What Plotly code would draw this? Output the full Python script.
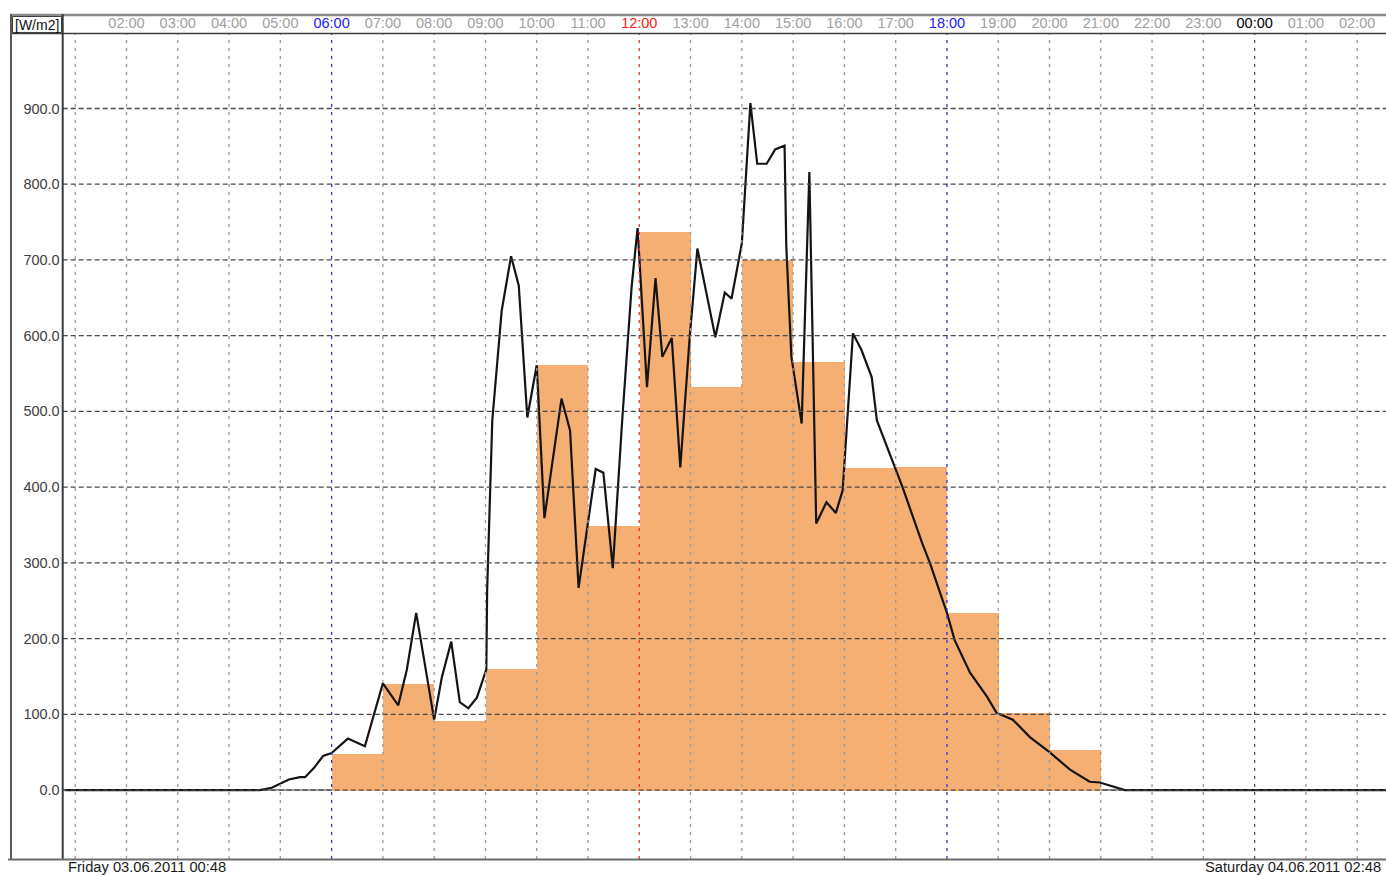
import plotly.graph_objects as go
import pandas as pd

W, H = 1386, 875

# ---------------- data ----------------
bar_start = ["2011-06-03 06:00", "2011-06-03 07:00", "2011-06-03 08:00", "2011-06-03 09:00",
             "2011-06-03 10:00", "2011-06-03 11:00", "2011-06-03 12:00", "2011-06-03 13:00",
             "2011-06-03 14:00", "2011-06-03 15:00", "2011-06-03 16:00", "2011-06-03 17:00",
             "2011-06-03 18:00", "2011-06-03 19:00", "2011-06-03 20:00"]
bar_values = [48, 141, 92, 161, 562, 349, 737, 533, 700, 566, 426, 427, 235, 102, 53]

line_times = ["00:48", "04:36", "04:50", "05:00", "05:10", "05:23", "05:29", "05:40", "05:50",
              "06:00", "06:19", "06:39", "07:00", "07:18", "07:28", "07:39", "08:00", "08:09",
              "08:20", "08:30", "08:40", "08:50", "09:01", "09:02", "09:08", "09:19", "09:30",
              "09:39", "09:49", "10:00", "10:09", "10:29", "10:39", "10:49", "11:09", "11:18",
              "11:29", "11:40", "11:51", "11:58", "12:09", "12:19", "12:27", "12:38", "12:48",
              "12:59", "13:08", "13:29", "13:40", "13:48", "14:00", "14:10", "14:18", "14:29",
              "14:39", "14:50", "14:52", "14:58", "15:10", "15:19", "15:27", "15:39", "15:50",
              "15:58", "16:10", "16:20", "16:32", "16:38", "16:59", "17:08", "17:31", "17:40",
              "18:00", "18:09", "18:27", "18:47", "18:58", "19:17", "19:37", "20:00", "20:24",
              "20:47", "20:59", "21:19", "21:28"]
line_values = [0, 0, 3, 8, 14, 17, 17, 30, 45,
               49, 68, 58, 141, 112, 159, 234, 93, 149,
               196, 116, 108, 122, 159, 264, 488, 633, 705,
               666, 492, 561, 359, 517, 475, 267, 424, 419,
               293, 488, 664, 742, 532, 676, 572, 597, 426,
               598, 715, 598, 657, 649, 722, 907, 827, 827,
               846, 851, 718, 572, 484, 816, 352, 380, 366,
               396, 603, 581, 545, 488, 427, 400, 326, 300,
               234, 198, 155, 123, 102, 93, 70, 50, 27,
               11, 10, 3, 0]
line_end_time = "2011-06-04 02:48"
line_end_value = 0

tick_times = pd.date_range("2011-06-03 01:00", "2011-06-04 02:00", freq="h")
tick_labels = ["", "02:00", "03:00", "04:00", "05:00", "06:00", "07:00", "08:00", "09:00",
               "10:00", "11:00", "12:00", "13:00", "14:00", "15:00", "16:00", "17:00",
               "18:00", "19:00", "20:00", "21:00", "22:00", "23:00", "00:00", "01:00", "02:00"]
y_ticks = [0, 100, 200, 300, 400, 500, 600, 700, 800, 900]

unit_label = "[W/m2]"
start_label = "Friday 03.06.2011 00:48"
end_label = "Saturday 04.06.2011 02:48"

# ---------------- styling helpers ----------------
special = {"06:00": "#2020ff", "18:00": "#2020ff", "12:00": "#ff2020", "00:00": "#000000"}
grid_special = {"06:00": "#3030e0", "18:00": "#3030e0", "12:00": "#ee3030", "00:00": "#555555"}


def px_x(p):
    return p / W


def px_y(p):
    return 1 - p / H


PLOT_L, PLOT_T, PLOT_B = 62.7, 33.5, 859.0

x_start = pd.Timestamp("2011-06-03 01:00") - pd.Timedelta(hours=12.5 / 51.28)
x_end = x_start + pd.Timedelta(hours=(W - PLOT_L) / 51.28)

line_x = [pd.Timestamp("2011-06-03 " + t) for t in line_times] + [pd.Timestamp(line_end_time)]
line_y = line_values + [line_end_value]

fig = go.Figure()
fig.add_trace(go.Bar(
    x=pd.to_datetime(bar_start), y=bar_values, width=3600000, offset=0,
    marker=dict(color="#F5AF73", line=dict(width=0)),
    hoverinfo="skip", showlegend=False,
))
fig.add_trace(go.Scatter(
    x=line_x, y=line_y, mode="lines",
    line=dict(color="#141414", width=2.2),
    showlegend=False,
))

ticktext = []
for lab in tick_labels:
    if lab in special:
        ticktext.append(f'<span style="color:{special[lab]}">{lab}</span>')
    else:
        ticktext.append(lab)

shapes = []
# vertical grid lines
for t, lab in zip(tick_times, tick_labels):
    hh = t.strftime("%H:%M")
    col = grid_special.get(hh, "#9a9a9a")
    shapes.append(dict(type="line", xref="x", yref="y domain", x0=t, x1=t, y0=0, y1=1,
                       line=dict(color=col, width=1.3, dash="3px,5px"), layer="above"))
# horizontal grid lines
for v in y_ticks:
    shapes.append(dict(type="line", xref="x domain", yref="y", x0=0, x1=1, y0=v, y1=v,
                       line=dict(color="#4a4a4a", width=1.3, dash="5px,3px"), layer="above"))

# frame
frame = [
    (10, 15, W, 15, "#8a8a8a", 2.5),
    (10, 33.5, W, 33.5, "#3c3c3c", 1.5),
    (11, 14, 11, 859, "#5a5a5a", 2),
    (62.7, 14, 62.7, 859, "#3a3a3a", 2),
    (8, 859.5, W, 859.5, "#6a6a6a", 2),
]
for x0, y0, x1, y1, c, w in frame:
    shapes.append(dict(type="line", xref="paper", yref="paper",
                       x0=px_x(x0), y0=px_y(y0), x1=px_x(x1), y1=px_y(y1),
                       line=dict(color=c, width=w), layer="above"))
# unit box outline
shapes.append(dict(type="rect", xref="paper", yref="paper",
                   x0=px_x(12.5), y0=px_y(32.5), x1=px_x(61.5), y1=px_y(16.5),
                   line=dict(color="#404040", width=1), layer="above"))

annotations = [
    dict(text=unit_label, xref="paper", yref="paper", x=px_x(37), y=px_y(24.5),
         xanchor="center", yanchor="middle", showarrow=False,
         font=dict(family="Liberation Sans, Arial, sans-serif", size=14, color="#111111")),
    dict(text=start_label, xref="paper", yref="paper", x=px_x(66), y=px_y(867),
         xanchor="left", yanchor="middle", showarrow=False,
         font=dict(family="Liberation Sans, Arial, sans-serif", size=14.7, color="#1a1a1a")),
    dict(text=end_label, xref="paper", yref="paper", x=px_x(1383), y=px_y(867),
         xanchor="right", yanchor="middle", showarrow=False,
         font=dict(family="Liberation Sans, Arial, sans-serif", size=14.7, color="#1a1a1a")),
]

fig.update_layout(
    width=W, height=H,
    template="none",
    margin=dict(l=0, r=0, t=0, b=0, pad=0),
    paper_bgcolor="white", plot_bgcolor="white",
    bargap=0,
    showlegend=False,
    font=dict(family="Liberation Sans, Arial, sans-serif", size=14),
    xaxis=dict(
        domain=[px_x(PLOT_L), 1.0],
        type="date",
        range=[x_start, x_end],
        side="top",
        tickmode="array", tickvals=list(tick_times), ticktext=ticktext,
        ticks="", showgrid=False, zeroline=False, showline=False,
        tickfont=dict(size=14.5, color="#a0a0a0"),
        ticklabelstandoff=2,
        automargin=False, fixedrange=True,
    ),
    yaxis=dict(
        domain=[px_y(PLOT_B), px_y(PLOT_T)],
        range=[-91, 999],
        tickmode="array", tickvals=y_ticks, tickformat=".1f",
        ticks="", showgrid=False, showline=False,
        zeroline=True, zerolinecolor="#9a9a9a", zerolinewidth=2,
        tickfont=dict(size=14.5, color="#404040"),
        ticklabelstandoff=2,
        automargin=False, fixedrange=True,
    ),
    shapes=shapes,
    annotations=annotations,
)

fig.write_html(
    "out.html",
    config={"displayModeBar": False},
    post_script="document.body.style.margin='0px';document.body.style.overflow='hidden';",
)
